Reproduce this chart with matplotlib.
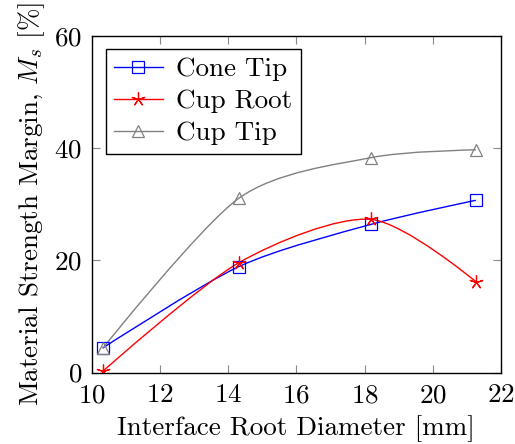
import matplotlib
matplotlib.use('Agg')
import matplotlib.pyplot as plt
from matplotlib.path import Path
from matplotlib.patches import PathPatch

plt.rcParams['font.family'] = 'serif'
plt.rcParams['font.serif'] = ['cmr10']
plt.rcParams['mathtext.fontset'] = 'cm'
plt.rcParams['axes.formatter.use_mathtext'] = True
plt.rcParams['font.size'] = 19.5

diam = [10.32, 14.32, 18.18, 21.26]
cone_tip = [4.35, 18.9, 26.4, 30.7]
cup_root = [0.2, 19.6, 27.3, 16.2]
cup_tip = [4.3, 31.1, 38.3, 39.7]

series = [
    ('Cone Tip', cone_tip, 'blue', 's', 9),
    ('Cup Root', cup_root, 'red', (5, 2), 10),
    ('Cup Tip', cup_tip, 'gray', '^', 8),
]


def smooth_path(xs, ys, k=0.14):
    # tikz-like "smooth" curve through the points
    pts = list(zip(xs, ys))
    n = len(pts)
    verts = [pts[0]]
    codes = [Path.MOVETO]
    for i in range(n - 1):
        p0 = pts[i]
        p1 = pts[i + 1]
        a = pts[i - 1] if i > 0 else p0
        b = pts[i + 2] if i + 2 < n else p1
        if i == 0:
            c1 = p0
        else:
            c1 = (p0[0] + k * (p1[0] - a[0]), p0[1] + k * (p1[1] - a[1]))
        if i + 2 >= n:
            c2 = p1
        else:
            c2 = (p1[0] - k * (b[0] - p0[0]), p1[1] - k * (b[1] - p0[1]))
        verts += [c1, c2, p1]
        codes += [Path.CURVE4] * 3
    return Path(verts, codes)


fig = plt.figure(figsize=(5.15, 4.44), dpi=100)
ax = fig.add_axes([0.178, 0.161, 0.795, 0.758])

for name, vals, col, mk, ms in series:
    ax.add_patch(PathPatch(smooth_path(diam, vals), fc='none', ec=col, lw=1.0))
    ax.plot(diam, vals, ls='none', marker=mk, ms=ms, mfc='none', mec=col, mew=0.9)
    ax.plot([], [], color=col, lw=1.0, marker=mk, ms=ms, mfc='none', mec=col,
            mew=0.9, label=name)

ax.set_xlim(10, 22)
ax.set_ylim(0, 60)
ax.set_xticks([10, 12, 14, 16, 18, 20, 22])
ax.set_yticks([0, 20, 40, 60])
ax.tick_params(direction='in', top=True, right=True, length=6, width=0.8,
               color='#888888')
ax.tick_params(axis='x', pad=8)
ax.tick_params(axis='y', pad=7)
for s in ax.spines.values():
    s.set_linewidth(1.0)

ax.set_xlabel('Interface Root Diameter [mm]', labelpad=6)
ax.set_ylabel(r'Material Strength Margin, $M_s$ [%]', labelpad=5)

leg = ax.legend(loc='upper left', bbox_to_anchor=(0.015, 0.985), fancybox=False,
                edgecolor='black', framealpha=1, handlelength=1.8,
                borderpad=0.3, labelspacing=0.3, handletextpad=0.5,
                borderaxespad=0.3)
leg.get_frame().set_linewidth(1.0)

plt.savefig('out.png', dpi=100)
